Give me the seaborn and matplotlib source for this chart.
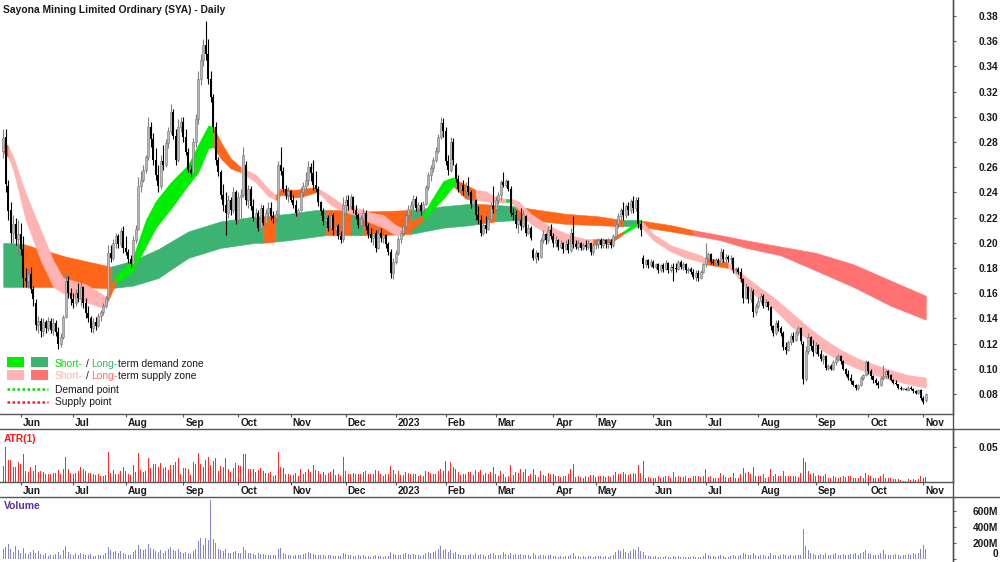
import numpy as np
import pandas as pd
import matplotlib
matplotlib.use("Agg")
import matplotlib.pyplot as plt
import matplotlib.transforms as mtransforms
from matplotlib.lines import Line2D
from matplotlib.patches import Rectangle
import seaborn as sns

# ---- daily bars (A$) ----
opens = [
    .273, .284, .245, .226, .208, .215, .203, .207, .195, .172,
    .170, .175, .163, .152, .135, .138, .130, .137, .132, .138,
    .131, .136, .129, .120, .125, .141, .170, .160, .155, .152,
    .160, .156, .165, .152, .144, .140, .132, .137, .134, .142,
    .145, .150, .156, .192, .188, .200, .205, .199, .209, .196,
    .193, .187, .183, .202, .211, .245, .250, .258, .268, .292,
    .282, .266, .254, .245, .265, .262, .279, .289, .304, .285,
    .266, .292, .296, .284, .272, .258, .255, .280, .298, .330,
    .345, .357, .350, .330, .316, .292, .266, .256, .238, .230,
    .224, .234, .226, .240, .218, .236, .238, .262, .234, .243,
    .229, .220, .224, .212, .228, .216, .224, .228, .221, .220,
    .223, .262, .257, .243, .238, .241, .234, .230, .224, .226,
    .240, .245, .250, .260, .255, .246, .243, .232, .225, .217,
    .220, .212, .222, .210, .213, .205, .203, .230, .234, .229,
    .236, .226, .222, .214, .220, .224, .213, .207, .204, .208,
    .196, .208, .204, .206, .199, .193, .176, .185, .192, .203,
    .208, .213, .222, .227, .230, .235, .228, .230, .225, .231,
    .244, .254, .259, .266, .273, .284, .295, .289, .265, .258,
    .280, .262, .251, .243, .246, .241, .245, .240, .231, .234,
    .222, .218, .208, .214, .211, .219, .229, .227, .234, .238,
    .248, .246, .249, .243, .224, .222, .215, .218, .213, .221,
    .208, .212, .194, .188, .192, .189, .202, .207, .202, .210,
    .205, .200, .202, .197, .200, .195, .199, .194, .208, .199,
    .197, .200, .196, .198, .197, .200, .193, .198, .199, .202,
    .198, .202, .199, .201, .198, .205, .215, .221, .226, .222,
    .229, .226, .233, .228, .234, .215, .188, .183, .186, .182,
    .185, .181, .183, .178, .182, .179, .184, .178, .181, .180,
    .179, .185, .181, .183, .178, .179, .177, .173, .176, .172,
    .177, .183, .188, .191, .185, .184, .186, .184, .193, .187,
    .189, .187, .188, .178, .179, .177, .171, .156, .165, .155,
    .162, .145, .150, .154, .158, .150, .153, .149, .134, .128,
    .136, .132, .128, .117, .115, .121, .126, .123, .129, .132,
    .120, .092, .114, .125, .118, .113, .119, .112, .108, .110,
    .101, .102, .100, .105, .108, .110, .106, .100, .096, .093,
    .090, .087, .085, .087, .093, .095, .105, .098, .094, .091,
    .089, .087, .093, .094, .098, .095, .091, .089, .088, .085,
    .084, .084, .083, .085, .084, .082, .081, .083, .077, .075,
]
highs = [
    .290, .290, .250, .232, .222, .220, .218, .216, .205, .180,
    .178, .181, .166, .155, .142, .140, .140, .139, .141, .140,
    .140, .139, .133, .128, .143, .176, .174, .164, .160, .163,
    .168, .172, .166, .156, .150, .142, .140, .141, .144, .147,
    .152, .158, .198, .198, .203, .208, .207, .212, .213, .205,
    .195, .190, .205, .214, .252, .257, .262, .270, .300, .296,
    .287, .275, .262, .270, .278, .282, .292, .310, .306, .290,
    .298, .300, .300, .290, .275, .262, .283, .302, .336, .350,
    .362, .376, .362, .336, .318, .296, .268, .258, .247, .240,
    .238, .236, .244, .242, .240, .243, .276, .265, .246, .245,
    .235, .228, .226, .231, .230, .227, .232, .232, .225, .226,
    .265, .276, .260, .246, .244, .242, .238, .234, .228, .244,
    .248, .256, .265, .263, .266, .257, .245, .233, .228, .222,
    .222, .225, .224, .216, .215, .209, .236, .238, .238, .239,
    .237, .230, .224, .222, .228, .226, .216, .212, .210, .210,
    .211, .212, .209, .207, .201, .195, .188, .194, .205, .210,
    .215, .225, .230, .233, .238, .237, .232, .232, .233, .246,
    .256, .262, .268, .276, .286, .300, .299, .292, .270, .284,
    .283, .263, .254, .248, .250, .248, .252, .242, .238, .235,
    .229, .222, .216, .221, .221, .232, .245, .237, .240, .250,
    .256, .251, .250, .245, .228, .226, .221, .228, .226, .222,
    .215, .213, .196, .194, .193, .204, .210, .208, .213, .215,
    .208, .205, .203, .202, .201, .202, .203, .212, .221, .202,
    .202, .201, .200, .202, .202, .200, .200, .202, .204, .204,
    .204, .203, .204, .203, .207, .218, .224, .228, .232, .231,
    .232, .235, .237, .236, .236, .218, .190, .187, .187, .187,
    .186, .184, .184, .183, .184, .186, .185, .183, .184, .184,
    .186, .186, .185, .184, .181, .181, .179, .178, .178, .178,
    .184, .200, .193, .192, .187, .188, .188, .196, .195, .191,
    .190, .190, .189, .181, .181, .180, .172, .168, .166, .165,
    .163, .152, .157, .160, .159, .155, .154, .150, .135, .139,
    .139, .134, .130, .121, .123, .128, .129, .131, .134, .133,
    .122, .118, .128, .126, .123, .121, .120, .115, .112, .111,
    .104, .104, .107, .110, .112, .111, .107, .101, .099, .096,
    .091, .088, .088, .094, .096, .107, .106, .100, .095, .093,
    .090, .094, .103, .099, .099, .096, .092, .091, .088, .086,
    .085, .085, .086, .086, .085, .083, .084, .084, .078, .081,
]
lows = [
    .267, .240, .218, .200, .200, .198, .190, .190, .165, .165,
    .164, .160, .150, .131, .128, .125, .126, .128, .130, .128,
    .127, .126, .116, .117, .124, .140, .156, .151, .148, .150,
    .153, .150, .148, .140, .137, .129, .128, .131, .133, .138,
    .143, .148, .155, .185, .186, .196, .196, .197, .192, .190,
    .184, .180, .181, .200, .210, .240, .248, .255, .266, .276,
    .262, .250, .240, .243, .258, .260, .275, .286, .282, .262,
    .264, .288, .280, .270, .256, .252, .254, .276, .294, .325,
    .340, .345, .326, .312, .288, .262, .253, .235, .225, .206,
    .220, .222, .224, .215, .216, .220, .236, .230, .228, .226,
    .217, .214, .209, .211, .214, .214, .219, .218, .216, .216,
    .222, .254, .240, .235, .232, .232, .228, .221, .219, .225,
    .236, .242, .246, .249, .242, .240, .229, .222, .214, .212,
    .209, .211, .206, .206, .203, .200, .201, .222, .226, .227,
    .224, .219, .212, .211, .214, .210, .204, .201, .198, .193,
    .195, .201, .200, .196, .190, .172, .171, .183, .190, .200,
    .205, .211, .217, .222, .226, .225, .224, .222, .224, .230,
    .242, .249, .256, .264, .271, .282, .284, .262, .254, .256,
    .262, .248, .240, .238, .238, .236, .238, .228, .228, .218,
    .215, .205, .206, .208, .210, .218, .224, .225, .231, .234,
    .244, .244, .241, .221, .218, .212, .208, .210, .212, .205,
    .207, .202, .186, .184, .186, .188, .200, .199, .200, .203,
    .197, .197, .194, .195, .192, .194, .192, .193, .196, .195,
    .194, .194, .194, .194, .195, .190, .190, .195, .196, .196,
    .196, .196, .196, .196, .197, .204, .212, .216, .218, .220,
    .222, .224, .224, .225, .212, .205, .180, .181, .180, .181,
    .180, .179, .176, .177, .177, .178, .176, .177, .170, .177,
    .178, .179, .178, .176, .176, .175, .171, .170, .170, .171,
    .176, .181, .186, .183, .182, .182, .182, .183, .185, .184,
    .185, .183, .176, .176, .175, .169, .152, .155, .152, .153,
    .141, .143, .148, .152, .148, .149, .147, .131, .126, .127,
    .130, .126, .115, .112, .114, .119, .121, .122, .127, .120,
    .088, .090, .112, .115, .110, .112, .110, .106, .104, .099,
    .099, .099, .099, .103, .106, .104, .099, .094, .091, .088,
    .086, .083, .083, .086, .091, .094, .096, .092, .089, .087,
    .085, .086, .091, .093, .093, .090, .088, .087, .084, .083,
    .083, .083, .082, .083, .081, .080, .080, .075, .072, .074,
]
closes = [
    .283, .247, .225, .208, .215, .203, .207, .195, .172, .170,
    .175, .163, .155, .135, .138, .130, .137, .132, .138, .131,
    .136, .129, .120, .125, .141, .170, .160, .155, .152, .160,
    .156, .165, .152, .144, .140, .132, .137, .134, .142, .145,
    .150, .156, .192, .188, .200, .205, .199, .209, .196, .193,
    .187, .183, .202, .211, .245, .250, .258, .268, .292, .282,
    .266, .254, .245, .265, .262, .279, .289, .304, .285, .266,
    .292, .296, .284, .272, .258, .255, .280, .298, .330, .345,
    .357, .350, .330, .316, .292, .266, .256, .238, .230, .224,
    .234, .226, .240, .218, .236, .238, .270, .234, .243, .229,
    .220, .224, .212, .228, .216, .224, .228, .221, .220, .223,
    .262, .257, .243, .238, .241, .234, .230, .224, .226, .240,
    .245, .250, .260, .255, .246, .243, .232, .225, .217, .220,
    .212, .222, .210, .213, .205, .202, .230, .234, .229, .236,
    .226, .222, .214, .220, .224, .213, .207, .204, .208, .196,
    .208, .204, .206, .199, .193, .176, .185, .192, .203, .208,
    .213, .222, .227, .230, .235, .228, .230, .225, .231, .244,
    .254, .259, .266, .273, .284, .295, .289, .265, .258, .280,
    .266, .251, .243, .246, .241, .245, .240, .231, .234, .222,
    .218, .208, .214, .211, .219, .229, .227, .234, .238, .248,
    .246, .249, .243, .224, .222, .215, .218, .213, .223, .208,
    .212, .204, .188, .192, .189, .202, .207, .202, .210, .205,
    .200, .202, .197, .200, .195, .199, .194, .208, .199, .197,
    .200, .196, .198, .197, .200, .193, .198, .199, .202, .198,
    .202, .199, .201, .198, .205, .215, .221, .226, .222, .229,
    .226, .233, .228, .234, .215, .210, .183, .186, .182, .185,
    .181, .183, .178, .182, .179, .184, .178, .181, .180, .179,
    .185, .181, .183, .178, .179, .177, .173, .176, .172, .177,
    .183, .188, .191, .185, .184, .186, .184, .193, .187, .189,
    .187, .188, .178, .179, .177, .171, .156, .165, .155, .162,
    .145, .150, .154, .158, .150, .153, .149, .134, .128, .136,
    .132, .128, .117, .115, .121, .126, .123, .129, .132, .122,
    .092, .114, .125, .118, .113, .119, .112, .108, .110, .101,
    .102, .100, .105, .108, .110, .106, .100, .096, .093, .090,
    .087, .085, .087, .093, .095, .105, .098, .094, .091, .089,
    .087, .093, .094, .098, .095, .091, .089, .088, .085, .084,
    .084, .083, .085, .084, .082, .081, .083, .077, .074, .080,
]
# volume in millions of shares
volume_m = [
    120, 150, 190, 130, 90, 160, 110, 80, 140, 70,
    60, 90, 110, 80, 100, 60, 50, 70, 40, 55,
    45, 60, 90, 50, 110, 160, 90, 60, 50, 70,
    55, 80, 60, 50, 45, 60, 40, 35, 50, 45,
    55, 70, 150, 110, 90, 100, 70, 95, 80, 60,
    55, 50, 90, 110, 180, 130, 110, 120, 190, 140,
    120, 100, 90, 110, 80, 100, 120, 150, 110, 95,
    120, 90, 80, 90, 70, 60, 100, 130, 220, 260,
    180, 260, 240, 740, 250, 200, 130, 110, 100, 130,
    80, 70, 90, 100, 70, 80, 150, 110, 80, 70,
    60, 55, 70, 65, 60, 50, 55, 50, 45, 50,
    120, 140, 80, 60, 50, 45, 40, 50, 45, 55,
    60, 80, 90, 70, 60, 55, 50, 45, 50, 40,
    45, 55, 40, 35, 40, 35, 70, 60, 45, 50,
    40, 35, 45, 40, 50, 40, 35, 30, 35, 45,
    40, 35, 30, 35, 40, 90, 60, 50, 55, 50,
    60, 70, 60, 55, 65, 50, 45, 40, 55, 80,
    90, 80, 85, 100, 120, 160, 110, 130, 90, 110,
    80, 90, 60, 50, 45, 55, 50, 60, 45, 70,
    55, 60, 45, 40, 50, 60, 70, 50, 45, 55,
    90, 60, 50, 80, 55, 60, 50, 60, 45, 55,
    45, 40, 80, 50, 40, 45, 50, 40, 45, 50,
    40, 35, 30, 35, 30, 35, 40, 45, 70, 40,
    35, 30, 35, 30, 35, 40, 30, 35, 40, 35,
    30, 35, 30, 40, 50, 90, 110, 100, 120, 90,
    80, 100, 120, 110, 150, 100, 90, 50, 40, 35,
    30, 35, 30, 25, 30, 35, 25, 30, 40, 30,
    35, 30, 25, 30, 25, 30, 35, 30, 25, 30,
    40, 70, 45, 40, 35, 30, 35, 50, 40, 30,
    30, 35, 45, 40, 35, 45, 80, 60, 50, 45,
    70, 50, 40, 45, 50, 40, 35, 70, 55, 50,
    40, 45, 60, 50, 40, 45, 40, 50, 45, 55,
    380, 160, 110, 70, 60, 55, 50, 60, 45, 70,
    50, 45, 60, 70, 55, 50, 60, 55, 50, 65,
    60, 70, 55, 80, 90, 110, 80, 60, 55, 50,
    45, 70, 110, 60, 55, 50, 45, 60, 50, 40,
    45, 50, 60, 50, 80, 60, 70, 130, 180, 120,
]

# ---- zones (bar index, lower, upper, state of the stretch that follows) ----
short_idx = [0, 2, 4, 9, 15, 20, 24, 28, 33, 39, 41, 45, 49, 52, 57, 61, 67, 74, 78, 82,
             84, 87, 91, 95, 101, 106, 109, 111, 117, 120, 125, 127, 131, 136, 141, 147,
             152, 157, 160, 163, 168, 171, 176, 180, 181, 185, 189, 193, 197, 201, 203,
             206, 211, 217, 222, 227, 233, 236, 243, 246, 248, 253, 255, 260, 267, 273,
             279, 281, 287, 290, 292, 297, 303, 308, 315, 322, 328, 335, 342, 349, 355,
             362, 369]
short_lo = [.272, .268, .258, .218, .186, .165, .160, .157, .153, .149, .150, .168, .173,
            .178, .197, .212, .227, .246, .256, .275, .276, .267, .259, .256, .248, .237,
            .234, .238, .236, .237, .240, .238, .230, .225, .222, .216, .212, .206, .206,
            .210, .218, .225, .235, .245, .243, .235, .234, .233, .232, .232, .232, .227,
            .215, .208, .201, .199, .198, .199, .200, .204, .207, .213, .213, .202, .193,
            .188, .185, .183, .181, .180, .177, .164, .155, .148, .134, .123, .114, .106,
            .100, .095, .091, .088, .085]
short_hi = [.280, .277, .268, .239, .210, .186, .172, .170, .167, .160, .157, .174, .181,
            .189, .218, .233, .248, .262, .278, .293, .292, .280, .267, .260, .254, .243,
            .238, .243, .242, .243, .244, .242, .237, .230, .228, .224, .222, .214, .211,
            .217, .222, .233, .249, .252, .250, .246, .242, .241, .236, .235, .235, .233,
            .223, .215, .210, .206, .203, .203, .203, .207, .209, .216, .218, .207, .198,
            .194, .190, .188, .186, .184, .181, .173, .164, .157, .145, .133, .124, .115,
            .108, .103, .099, .095, .093]
short_state = ["O", "SS", "SS", "SS", "SS", "SS", "SS", "SS", "SS", "SS", "O", "SD", "SD",
               "SD", "SD", "SD", "SD", "SD", "SD", "SD", "O", "O", "O", "SS", "SS", "SS",
               "O", "O", "O", "O", "SS", "SS", "SS", "SS", "SS", "SS", "SS", "SS", "O",
               "O", "SD", "SD", "SD", "SD", "O", "O", "SS", "SS", "SS", "SD", "SS", "SS",
               "SS", "SS", "SS", "SS", "SS", "O", "O", "O", "SD", "SD", "SS", "SS", "SS",
               "SS", "SS", "O", "O", "SS", "SS", "SS", "SS", "SS", "SS", "SS", "SS", "SS",
               "SS", "SS", "SS", "SS", "SS"]

long_idx = [0, 8, 25, 43, 52, 62, 74, 87, 101, 104, 109, 114, 125, 129, 139, 144, 149,
            163, 176, 187, 190, 197, 205, 211, 225, 238, 248, 254, 267, 276, 287, 297,
            311, 325, 340, 355, 369]
long_lo = [.165, .165, .165, .164, .166, .172, .188, .196, .200, .200, .201, .202, .205,
           .206, .206, .206, .206, .207, .212, .214, .215, .217, .218, .218, .215, .214,
           .213, .213, .209, .206, .202, .196, .190, .178, .165, .150, .139]
long_hi = [.200, .199, .189, .181, .186, .195, .209, .217, .221, .221, .222, .223, .226,
           .226, .226, .225, .225, .226, .229, .231, .231, .230, .229, .227, .223, .221,
           .218, .218, .214, .210, .206, .202, .197, .192, .183, .170, .158]
long_state = ["LD", "O", "O", "LD", "LD", "LD", "LD", "LD", "LD", "O", "LD", "LD", "LD",
              "O", "LD", "O", "O", "LD", "LD", "LD", "O", "LD", "O", "O", "O", "O", "LD",
              "O", "O", "LS", "LS", "LS", "LS", "LS", "LS", "LS", "LS"]

# ---- axes labels ----
price_ticks = [0.08, 0.10, 0.12, 0.14, 0.16, 0.18, 0.20, 0.22, 0.24, 0.26, 0.28, 0.30,
               0.32, 0.34, 0.36, 0.38]
atr_ticks = [0.05]
vol_ticks = [0, 200, 400, 600]
vol_labels = ["0", "200M", "400M", "600M"]
asx_holidays = ["2022-06-13", "2022-12-26", "2022-12-27", "2023-01-02", "2023-01-26",
                "2023-04-07", "2023-04-10", "2023-04-25", "2023-06-12"]

title = "Sayona Mining Limited Ordinary (SYA) - Daily"

zone_colors = {"SD": "#00ee00", "SS": "#ffb3b3", "LD": "#3cb371",
               "LS": "#ff7272", "O": "#ff661a"}
EDGE = "#555555"
TXT = "#1a1a1a"
W, H = 1000, 562

n = min(len(opens), len(highs), len(lows), len(closes), len(volume_m))
o = np.array(opens[:n]); h = np.array(highs[:n])
l = np.array(lows[:n]); c = np.array(closes[:n])
vol = np.array(volume_m[:n])
x = np.arange(n)

days = pd.bdate_range("2022-05-23", "2023-11-10")
days = days[~days.isin(pd.to_datetime(asx_holidays))][:n]
month_pos = [i for i in range(1, n) if days[i].month != days[i - 1].month]
month_labels = [str(days[i].year) if days[i].month == 1 else days[i].strftime("%b")
                for i in month_pos]

prev_c = np.concatenate([[c[0]], c[:-1]])
atr = np.maximum(h, prev_c) - np.minimum(l, prev_c)

sns.set_theme(style="white")
plt.rcParams["font.family"] = ["Liberation Sans", "DejaVu Sans"]

fig = plt.figure(figsize=(10, 5.62), dpi=100)


def box(top, bottom, right=953):
    return [0, 1 - bottom / H, right / W, (bottom - top) / H]


ax = fig.add_axes(box(0, 414))
ax_atr = fig.add_axes(box(429, 482))
ax_vol = fig.add_axes(box(497, 562))


def draw_zone(a, idx, lo, hi, state):
    idx = np.array(idx); lo = np.array(lo); hi = np.array(hi)
    start = 0
    for k in range(1, len(idx)):
        if state[k] != state[start] or k == len(idx) - 1:
            sl = slice(start, k + 1)
            col = zone_colors[state[start]]
            a.fill_between(idx[sl], lo[sl], hi[sl], color=col, ec=col, lw=0.4, zorder=1)
            start = k


draw_zone(ax, long_idx, long_lo, long_hi, long_state)
draw_zone(ax, short_idx, short_lo, short_hi, short_state)

# candles
up = c >= o
ax.vlines(x[up], l[up], h[up], color="#7f7f7f", lw=0.8, zorder=3)
ax.vlines(x[~up], l[~up], h[~up], color="black", lw=0.8, zorder=3)
body_lo = np.minimum(o, c)
body_h = np.maximum(np.abs(c - o), 0.0009)
ax.bar(x[up], body_h[up], bottom=body_lo[up], width=0.75, color="#b8b8b8",
       edgecolor="#777777", linewidth=0.4, zorder=4)
ax.bar(x[~up], body_h[~up], bottom=body_lo[~up], width=0.75, color="black",
       linewidth=0, zorder=4)

sns.barplot(x=x, y=atr, ax=ax_atr, native_scale=True, color="#ff2b2b", width=0.5,
            errorbar=None, linewidth=0, saturation=1)
sns.barplot(x=x, y=vol, ax=ax_vol, native_scale=True, color="#8585d2", width=0.5,
            errorbar=None, linewidth=0, saturation=1)

shift = mtransforms.ScaledTranslation(2 / 100, 0, fig.dpi_scale_trans)


def style(a, yticks, ylabels, ylim, months):
    a.set_xlim(-1.3, 379.9)
    a.set_ylim(*ylim)
    a.set_xlabel("")
    a.set_ylabel("")
    a.grid(False)
    for s in ("top", "left"):
        a.spines[s].set_visible(False)
    for s in ("right", "bottom"):
        a.spines[s].set_color(EDGE)
        a.spines[s].set_linewidth(1.0)
    a.set_yticks(yticks, labels=ylabels)
    a.tick_params(axis="y", right=True, left=False, labelright=True, labelleft=False,
                  direction="out", length=2.5, width=0.8, color=EDGE, pad=29.9,
                  labelsize=7.3, labelcolor=TXT)
    for t in a.get_yticklabels():
        t.set_horizontalalignment("right")
        t.set_fontweight("bold")
    if months:
        a.set_xticks(month_pos, labels=month_labels)
        a.tick_params(axis="x", bottom=True, direction="out", length=2.2, width=0.8,
                      color=EDGE, pad=1, labelsize=7.3, labelcolor=TXT)
        for t in a.get_xticklabels():
            t.set_horizontalalignment("left")
            t.set_fontweight("bold")
            t.set_transform(t.get_transform() + shift)
    else:
        a.set_xticks([])
        a.spines["bottom"].set_visible(False)


style(ax, price_ticks, [f"{v:.2f}" for v in price_ticks], (0.0641, 0.3927), True)
style(ax_atr, atr_ticks, ["0.05"], (0, 0.0757), True)
style(ax_vol, vol_ticks, vol_labels, (-37.5, 775), False)
# keep the zero label inside the picture
ax_vol.get_yticklabels()[0].set_verticalalignment("bottom")

# frame lines
for yy in (429, 497):
    fig.add_artist(Line2D([0, 1], [1 - yy / H] * 2, color=EDGE, lw=1.0))
fig.add_artist(Line2D([953 / W] * 2, [0, 1], color=EDGE, lw=1.0))

# titles
fig.text(3 / W, 1 - 12.7 / H, title, fontsize=7.4, fontweight="bold", color=TXT,
         va="baseline", ha="left")
fig.text(3.5 / W, 1 - 441.5 / H, "ATR(1)", fontsize=7.4, fontweight="bold",
         color="#ff1a1a", va="baseline", ha="left")
fig.text(3.5 / W, 1 - 509 / H, "Volume", fontsize=7.4, fontweight="bold",
         color="#5a2d9c", va="baseline", ha="left")

# legend
for (yt, c1, c2) in ((357, zone_colors["SD"], zone_colors["LD"]),
                     (370, zone_colors["SS"], zone_colors["LS"])):
    fig.add_artist(Rectangle((7 / W, 1 - (yt + 10) / H), 17 / W, 10 / H,
                             transform=fig.transFigure, color=c1, lw=0))
    fig.add_artist(Rectangle((31 / W, 1 - (yt + 10) / H), 17 / W, 10 / H,
                             transform=fig.transFigure, color=c2, lw=0))
fig.add_artist(Line2D([7 / W, 48 / W], [1 - 389 / H] * 2, color="#00dd00", lw=1.8,
                      linestyle=(0, (1, 1))))
fig.add_artist(Line2D([7 / W, 48 / W], [1 - 401.7 / H] * 2, color="#ff1a1a", lw=1.8,
                      linestyle=(0, (1, 1))))


def colored_line(x_px, y_px, parts):
    prev = None
    for text, color, gap in parts:
        if prev is None:
            prev = ax.text(x_px / W, 1 - y_px / H, text, color=color, fontsize=7.4,
                           transform=fig.transFigure, va="baseline", ha="left")
        else:
            prev = ax.annotate(text, xy=(1, 0), xycoords=prev, xytext=(gap, 0),
                               textcoords="offset points", color=color, fontsize=7.4,
                               va="bottom", ha="left")


colored_line(55, 366.7, [("Short-", "#00dd00", 0), ("/", TXT, 2.1),
                         ("Long-", "#3cb371", 2.1), ("term demand zone", TXT, 0)])
colored_line(55, 379.3, [("Short-", "#ffb0b0", 0), ("/", TXT, 2.1),
                         ("Long-", "#ff6f6f", 2.1), ("term supply zone", TXT, 0)])
colored_line(55, 392.7, [("Demand point", TXT, 0)])
colored_line(55, 405.3, [("Supply point", TXT, 0)])

fig.savefig("out.png", dpi=100)
